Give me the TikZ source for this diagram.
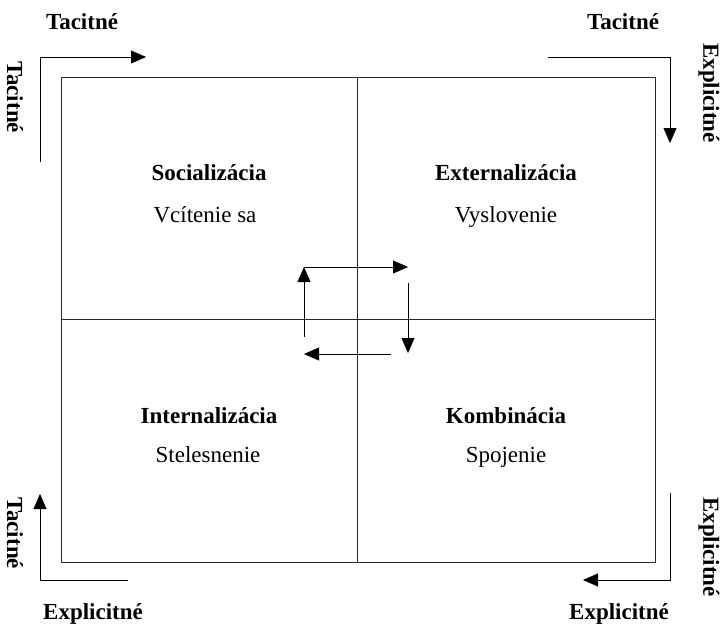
\documentclass[tikz,border=0pt]{standalone}
\usepackage{fontspec}
\setmainfont{Liberation Serif}
\usetikzlibrary{arrows.meta, positioning}
\tikzset{x=1pt, y=-1pt, line width=1pt, >={Triangle[length=15pt, width=13pt]}, quad title/.style={font=\fontsize{23}{27}\selectfont\bfseries}, quad sub/.style={font=\fontsize{23}{27}\selectfont}, side text/.style={font=\fontsize{23}{27}\selectfont\bfseries}}

\begin{document}
\begin{tikzpicture}[every node/.style={inner sep=0pt}]
	\useasboundingbox (0,0) rectangle (720,626);
	% quadrant grid
	\draw[black!85] (61,77) rectangle (655,562);
	\draw[black!85] (357,77) -- (357,562) (61,319) -- (655,319);
	% quadrant texts
	\node[quad title, anchor=base] (Socializacia) at (209,180) {Socializácia};
	\node[quad sub, anchor=base] (Vcitenie) at (205,222) {Vcítenie sa};
	\node[quad title, anchor=base] (Externalizacia) at (506,180) {Externalizácia};
	\node[quad sub, anchor=base] (Vyslovenie) at (506,222) {Vyslovenie};
	\node[quad title, anchor=base] (Internalizacia) at (209,423) {Internalizácia};
	\node[quad sub, anchor=base] (Stelesnenie) at (208,462) {Stelesnenie};
	\node[quad title, anchor=base] (Kombinacia) at (506,423) {Kombinácia};
	\node[quad sub, anchor=base] (Spojenie) at (506,462) {Spojenie};
	% corner texts
	\node[side text, anchor=base] (TL Top) at (82,30) {Tacitné};
	\node[side text, rotate=-90] (TL Side) at (15,97) {Tacitné};
	\node[side text, anchor=base] (TR Top) at (623,30) {Tacitné};
	\node[side text, rotate=-90] (TR Side) at (709,93) {Explicitné};
	\node[side text, anchor=base] (BL Bottom) at (93,619) {Explicitné};
	\node[side text, rotate=-90] (BL Side) at (15,533) {Tacitné};
	\node[side text, anchor=base] (BR Bottom) at (619,619) {Explicitné};
	\node[side text, rotate=-90] (BR Side) at (709,547) {Explicitné};
	% corner arrows
	\coordinate (TL Start) at (40,162);
	\coordinate (TL End) at (146,57);
	\coordinate (TR Start) at (548,57);
	\coordinate (TR End) at (670,143);
	\coordinate (BL Start) at (128,580);
	\coordinate (BL End) at (40,494);
	\coordinate (BR Start) at (670,493);
	\coordinate (BR End) at (583,580);
	\draw[->] (TL Start) |- (TL End);
	\draw[->] (TR Start) -| (TR End);
	\draw[->] (BL Start) -| (BL End);
	\draw[->] (BR Start) |- (BR End);
	% spiral in the middle
	\coordinate (Up Start) at (304,337);
	\coordinate (Corner) at (304,267);
	\coordinate (Right End) at (408,267);
	\coordinate (Down Start) at (408,283);
	\coordinate (Down End) at (408,353);
	\coordinate (Left Start) at (391,354);
	\coordinate (Left End) at (304,354);
	\draw[->] (Up Start) -- (Corner);
	\draw[->] (Corner) -- (Right End);
	\draw[->] (Down Start) -- (Down End);
	\draw[->] (Left Start) -- (Left End);
\end{tikzpicture}
\end{document}
